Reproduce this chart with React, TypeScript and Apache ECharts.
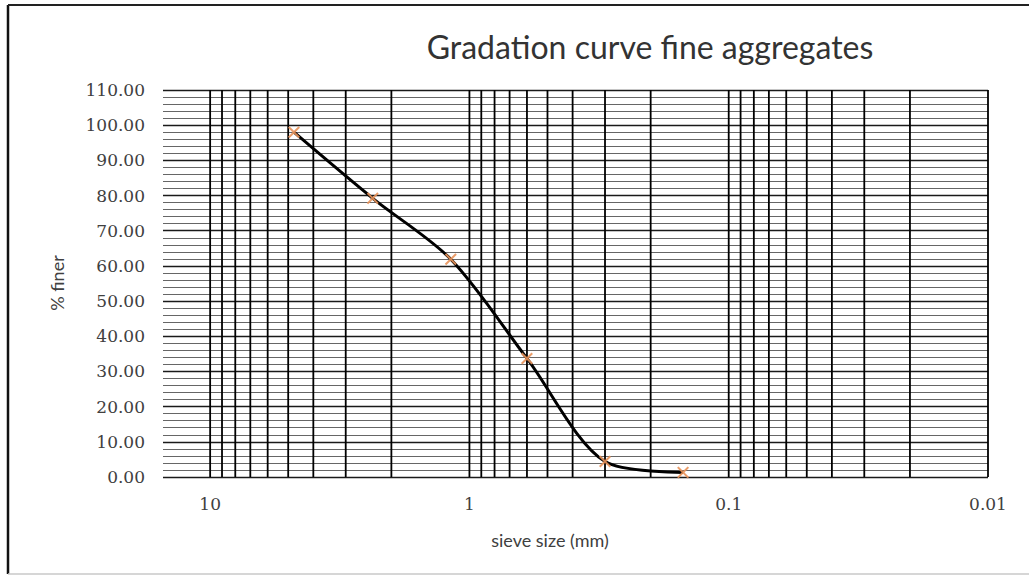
import React, { useEffect, useRef } from "react";
import * as echarts from "echarts";

// ---- data ----
const sieveSizes: number[] = [4.75, 2.36, 1.18, 0.6, 0.3, 0.15];
const percentFiner: number[] = [98.0, 79.2, 61.9, 33.7, 4.4, 1.3];
const xTickLabels: number[] = [10, 1, 0.1, 0.01];
const yTicks: number[] = [0, 10, 20, 30, 40, 50, 60, 70, 80, 90, 100, 110];
const verticalGridValues: number[] = [
  10, 9, 8, 7, 6, 5, 4, 3, 2,
  1, 0.9, 0.8, 0.7, 0.6, 0.5, 0.4, 0.3, 0.2,
  0.1, 0.09, 0.08, 0.07, 0.06, 0.05, 0.04, 0.03, 0.02, 0.01,
];
const xMin = 0.01;
const xMax = 15.2;

const title = "Gradation curve fine aggregates";
const xName = "sieve size (mm)";
const yName = "% finer";

const SANS = "Lato, 'Noto Sans', sans-serif";
const SERIF = "'DejaVu Serif', serif";

const xMarkPath =
  "path://M0,1.2L1.2,0L5,3.8L8.8,0L10,1.2L6.2,5L10,8.8L8.8,10L5,6.2L1.2,10L0,8.8L3.8,5Z";

export default function App() {
  const ref = useRef<HTMLDivElement>(null);

  useEffect(() => {
    document.body.style.margin = "0";
    if (!ref.current) return;
    const chart = echarts.init(ref.current, undefined, { renderer: "svg" });
    const yMin = yTicks[0];
    const yMax = yTicks[yTicks.length - 1];

    chart.setOption({
      animation: false,
      backgroundColor: "#ffffff",
      grid: { left: 163, right: 41, top: 90, bottom: 100, containLabel: false },
      xAxis: {
        type: "log",
        logBase: 10,
        min: xMin,
        max: xMax,
        inverse: true,
        axisLine: { show: false },
        axisTick: { show: false },
        splitLine: { show: false },
        axisLabel: {
          margin: 18,
          fontFamily: SERIF,
          fontSize: 17,
          color: "#404040",
          formatter: (v: number) => {
            const hit = xTickLabels.find((t) => Math.abs(Math.log10(t) - Math.log10(v)) < 1e-6);
            return hit === undefined ? "" : String(hit);
          },
        },
      },
      yAxis: {
        type: "value",
        min: yMin,
        max: yMax,
        interval: 10,
        splitNumber: 11,
        axisLine: { show: false },
        axisTick: { show: false },
        axisLabel: {
          margin: 18,
          fontFamily: SERIF,
          fontSize: 17,
          color: "#404040",
          formatter: (v: number) => v.toFixed(2),
        },
        splitLine: { show: true, lineStyle: { color: "#1a1a1a", width: 1.3 } },
        minorTick: { show: false, splitNumber: 5 },
        minorSplitLine: { show: true, lineStyle: { color: "#666666", width: 1.2 } },
      },
      graphic: [
        {
          type: "line",
          shape: { x1: 8, y1: 5, x2: 8, y2: 574 },
          style: { stroke: "#111", lineWidth: 2.5 },
        },
        {
          type: "line",
          shape: { x1: 8, y1: 5, x2: 1029, y2: 5 },
          style: { stroke: "#222", lineWidth: 2 },
        },
        {
          type: "line",
          shape: { x1: 8, y1: 574, x2: 1029, y2: 574 },
          style: { stroke: "#c8c8c8", lineWidth: 1.5 },
        },
        {
          type: "text",
          x: 650,
          y: 46,
          style: {
            text: title,
            fontFamily: SANS,
            fontSize: 32,
            fill: "#333333",
            textAlign: "center",
            textVerticalAlign: "middle",
          },
        },
        {
          type: "text",
          x: 550,
          y: 540,
          style: {
            text: xName,
            fontFamily: SANS,
            fontSize: 18,
            fill: "#404040",
            textAlign: "center",
            textVerticalAlign: "middle",
          },
        },
        {
          type: "text",
          x: 57,
          y: 283,
          rotation: Math.PI / 2,
          style: {
            text: yName,
            fontFamily: SANS,
            fontSize: 18,
            fill: "#404040",
            textAlign: "center",
            textVerticalAlign: "middle",
          },
        },
      ],
      series: [
        {
          type: "custom",
          z: 1,
          silent: true,
          clip: false,
          data: verticalGridValues.map((v) => [v, yMin]),
          encode: { x: 0, y: 1 },
          renderItem: (_params: any, api: any) => {
            const xv = api.value(0);
            const p1 = api.coord([xv, yMin]);
            const p2 = api.coord([xv, yMax]);
            return {
              type: "line",
              shape: { x1: p1[0], y1: p1[1], x2: p2[0], y2: p2[1] },
              style: { stroke: "#000000", lineWidth: 1.8 },
            };
          },
        },
        {
          type: "line",
          z: 3,
          smooth: 0.3,
          data: sieveSizes.map((s, i) => [s, percentFiner[i]]),
          lineStyle: { color: "#000000", width: 3 },
          symbol: xMarkPath,
          symbolSize: 12,
          itemStyle: { color: "#E8925A", opacity: 0.9 },
          showAllSymbol: true,
        },
      ],
    });
    return () => chart.dispose();
  }, []);

  return <div ref={ref} style={{ width: 1029, height: 577 }} />;
}
